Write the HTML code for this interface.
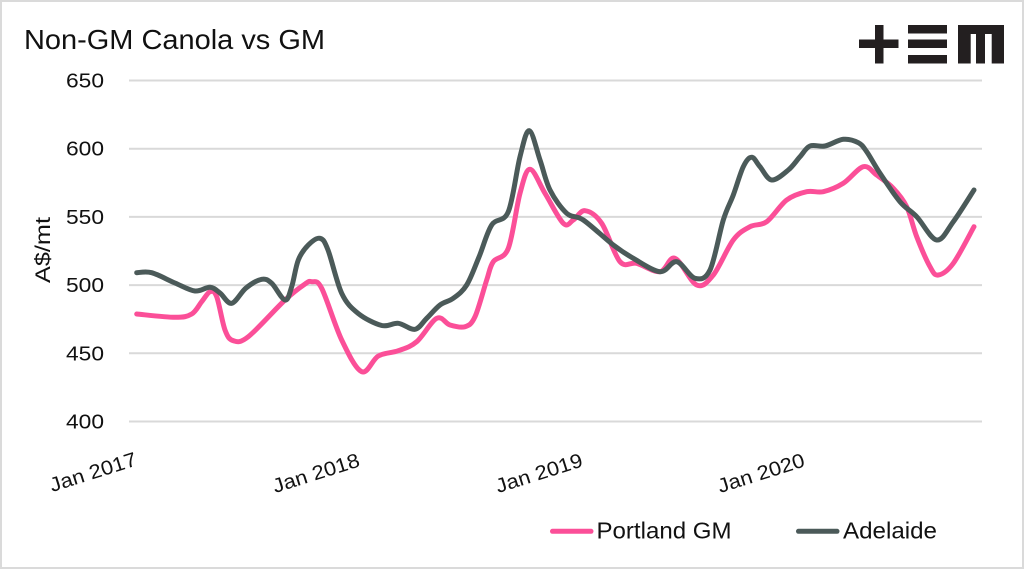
<!DOCTYPE html>
<html>
<head>
<meta charset="utf-8">
<style>
  html,body{margin:0;padding:0;background:#fff;}
  body{width:1024px;height:569px;overflow:hidden;position:relative;}
  .frame{position:absolute;left:0;top:0;width:1020px;height:565px;border:2px solid #dadada;background:#fff;}
  svg{position:absolute;left:0;top:0;}
  text{font-family:"Liberation Sans",sans-serif;fill:#111;}
</style>
</head>
<body>
<div class="frame"></div>
<svg width="1024" height="569" viewBox="0 0 1024 569" xmlns="http://www.w3.org/2000/svg">
  <!-- title -->
  <text x="24" y="49" font-size="28" textLength="301" lengthAdjust="spacingAndGlyphs">Non-GM Canola vs GM</text>

  <!-- logo -->
  <g fill="#231f20">
    <rect x="859" y="39.5" width="39.5" height="8.5"/>
    <rect x="875" y="25" width="8.5" height="38.5"/>
    <rect x="908" y="25" width="39" height="8.5"/>
    <rect x="908" y="39.5" width="39" height="8.5"/>
    <rect x="908" y="55" width="39" height="8.5"/>
    <path d="M958 25 H1004 V63.5 H991.7 V34 H985 V63.5 H976 V34 H970.7 V63.5 H958 Z"/>
  </g>

  <!-- gridlines -->
  <g stroke="#d9d9d9" stroke-width="2">
    <line x1="129" y1="80.5" x2="982" y2="80.5"/>
    <line x1="129" y1="148.7" x2="982" y2="148.7"/>
    <line x1="129" y1="216.9" x2="982" y2="216.9"/>
    <line x1="129" y1="285.1" x2="982" y2="285.1"/>
    <line x1="129" y1="353.3" x2="982" y2="353.3"/>
    <line x1="129" y1="421.5" x2="982" y2="421.5"/>
  </g>

  <!-- y labels -->
  <g font-size="20" text-anchor="end">
    <text x="104" y="87.5" textLength="38" lengthAdjust="spacingAndGlyphs">650</text>
    <text x="104" y="155.7" textLength="38" lengthAdjust="spacingAndGlyphs">600</text>
    <text x="104" y="223.9" textLength="38" lengthAdjust="spacingAndGlyphs">550</text>
    <text x="104" y="292.1" textLength="38" lengthAdjust="spacingAndGlyphs">500</text>
    <text x="104" y="360.3" textLength="38" lengthAdjust="spacingAndGlyphs">450</text>
    <text x="104" y="428.5" textLength="38" lengthAdjust="spacingAndGlyphs">400</text>
  </g>

  <!-- y axis title -->
  <text transform="translate(50,250) rotate(-90)" font-size="21" text-anchor="middle" textLength="66" lengthAdjust="spacingAndGlyphs">A$/mt</text>

  <!-- x labels -->
  <g font-size="20" text-anchor="end">
    <text transform="translate(138,465) rotate(-17.5)" textLength="90" lengthAdjust="spacingAndGlyphs">Jan 2017</text>
    <text transform="translate(361,466) rotate(-17.5)" textLength="90" lengthAdjust="spacingAndGlyphs">Jan 2018</text>
    <text transform="translate(584,466) rotate(-17.5)" textLength="90" lengthAdjust="spacingAndGlyphs">Jan 2019</text>
    <text transform="translate(806,466) rotate(-17.5)" textLength="90" lengthAdjust="spacingAndGlyphs">Jan 2020</text>
  </g>

  <!-- series -->
  <polyline id="pink" fill="none" stroke="#fb4f98" stroke-width="5" stroke-linejoin="round" stroke-linecap="round"
    points="136.7,314 175,317.3 191.7,314 201.7,301.7 210,291.7 216.7,296.7 225,330 233.3,340.7 248.3,336.7 285,300 305,284 311.7,281.7 321.7,288.3 341.7,340 361.7,371.7 378.3,356 398.3,350.7 416.7,341.7 436.7,318.3 450,325 465,326.7 475,316.7 486.7,280 493.3,261.7 508.3,248.3 520,193.3 530,169.3 545,193.3 563.3,223.3 573.3,220 585,210.7 601.7,223.3 620,261.7 636.7,263.3 660,271.7 675,258.3 696.7,285 713.3,275 733.3,240 750,226.7 766.7,221.7 786.7,200 806.7,191.7 823.3,191.7 843.3,183.3 863.3,166.7 876.7,175 893.3,188.3 906.7,206.7 916.7,236.7 930,266.7 938.3,275 953.3,263.3 974,226.7"/>
  <polyline id="dark" fill="none" stroke="#4b5a59" stroke-width="5" stroke-linejoin="round" stroke-linecap="round"
    points="136.7,272.7 151.7,272.7 175,283 195,291 210,287.3 220,293 231.7,303.3 246,288 261.7,279.3 271.7,283.3 285,300 291.7,286.7 298.3,260 308.3,245 320,238.3 328,250 341.7,293.3 358,313.3 381.7,325.5 398.3,323.3 415,329.3 426.7,318.3 440,305 453.3,298.3 466.7,285 479,257 491.7,225 508.3,211.7 520,156.7 529.3,130.7 540,160 550,190 566.7,213.3 583.3,220 613.3,245 633.3,258.3 660,271.7 676.7,261.7 695,278.3 710,270 723.3,220 733.3,195 743.3,166.7 751.7,157.3 760,166.7 771.7,180 788.3,170 800,156.7 810,146 825,146 843.3,139.3 858.3,142.7 866.7,151.7 880,173.3 900,201.7 916.7,216.7 936.7,240 953.3,221.7 974,190"/>

  <!-- legend -->
  <line x1="552.5" y1="531.3" x2="591" y2="531.3" stroke="#fb4f98" stroke-width="5" stroke-linecap="round"/>
  <text x="596.5" y="538.3" font-size="23" textLength="135" lengthAdjust="spacingAndGlyphs">Portland GM</text>
  <line x1="798.5" y1="531.3" x2="837" y2="531.3" stroke="#4b5a59" stroke-width="5" stroke-linecap="round"/>
  <text x="843" y="538.3" font-size="23" textLength="94" lengthAdjust="spacingAndGlyphs">Adelaide</text>
</svg>
<script>
(function(){
  var ns="http://www.w3.org/2000/svg";
  ["pink","dark"].forEach(function(id){
    var pl=document.getElementById(id);
    var pts=pl.getAttribute("points").trim().split(/\s+/).map(function(s){var a=s.split(",");return [+a[0],+a[1]];});
    var d="M"+pts[0][0]+","+pts[0][1];
    for(var i=0;i<pts.length-1;i++){
      var p0=pts[i-1]||pts[i],p1=pts[i],p2=pts[i+1],p3=pts[i+2]||p2;
      var t=1/6;
      var c1=[p1[0]+(p2[0]-p0[0])*t,p1[1]+(p2[1]-p0[1])*t];
      var c2=[p2[0]-(p3[0]-p1[0])*t,p2[1]-(p3[1]-p1[1])*t];
      d+=" C"+c1[0].toFixed(2)+","+c1[1].toFixed(2)+" "+c2[0].toFixed(2)+","+c2[1].toFixed(2)+" "+p2[0]+","+p2[1];
    }
    var path=document.createElementNS(ns,"path");
    path.setAttribute("d",d);
    ["fill","stroke","stroke-width","stroke-linejoin","stroke-linecap"].forEach(function(a){path.setAttribute(a,pl.getAttribute(a));});
    pl.parentNode.replaceChild(path,pl);
  });
})();
</script>
</body>
</html>
